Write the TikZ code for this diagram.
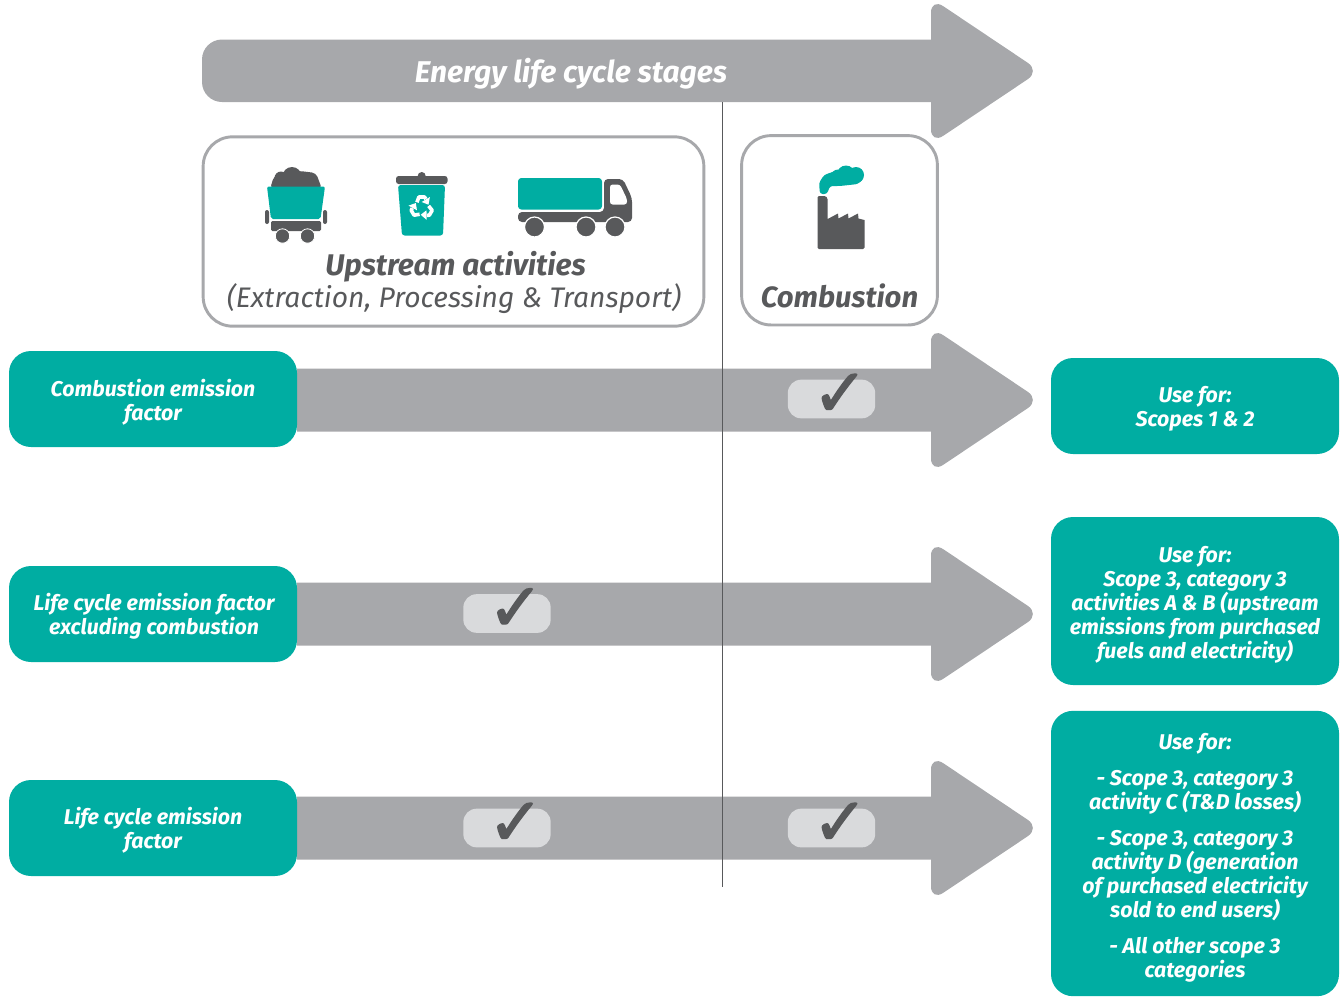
\documentclass[tikz,border=0pt]{standalone}
\usepackage{fontspec}
\setmainfont{Fira Sans}
\newfontfamily\symbfont[FakeBold=2]{DejaVu Sans}
\definecolor{teal1}{HTML}{00ADA2}
\definecolor{grey1}{HTML}{A7A8AB}
\definecolor{dark1}{HTML}{58595B}
\definecolor{pill1}{HTML}{D9DADC}
\tikzset{
  x=0.75pt,y=-0.75pt,
  tealbox/.style={fill=teal1,rounded corners=16.5pt,inner sep=0pt,minimum width=216pt},
  teallabel/.style={text=white,inner sep=0pt,align=center,font=\fontsize{16}{18}\selectfont\bfseries\itshape},
  framebox/.style={draw=grey1,line width=2.2pt,fill=white,rounded corners=22pt,inner sep=0pt},
  pillbox/.style={fill=pill1,rounded corners=10pt,minimum width=65.5pt,minimum height=29pt,inner sep=0pt},
  checkmark/.style={text=dark1,inner sep=0pt,font=\symbfont\fontsize{50}{50}\selectfont},
  darktext/.style={text=dark1,inner sep=0pt},
  bigarrow/.style={fill=grey1,rounded corners=11pt},
}
\newcommand{\stagearrow}[2][297]{%
  \fill[bigarrow] (#1,#2-31.5) [sharp corners] -- (931,#2-31.5) [rounded corners=11pt] -- (931,#2-73) -- (1040,#2) -- (931,#2+73) [sharp corners] -- (931,#2+31.5) -- (#1,#2+31.5) -- cycle;%
}
\begin{document}
\begin{tikzpicture}
\useasboundingbox (0,0) rectangle (1342,996);
% title arrow
\fill[bigarrow] (230,39.5) [sharp corners] -- (931,39.5) [rounded corners=11pt] -- (931,-2) -- (1040,71) -- (931,144) [sharp corners] -- (931,102) -- (230,102) [rounded corners=15pt] -- (202,102) -- (202,39.5) [sharp corners] -- cycle;
\node[text=white,inner sep=0pt,font=\fontsize{22.5}{25}\selectfont\bfseries\itshape] (title) at (571,73.5) {Energy life cycle stages};
% row arrows
\stagearrow{400}
\stagearrow{614}
\stagearrow{828}
% divider
\coordinate (divtop) at (722.5,102);
\coordinate (divbot) at (722.5,887);
\draw[dark1,line width=0.6pt] (divtop) -- (divbot);
% frames
\node[framebox,minimum width=375.5pt,minimum height=142pt] (upframe) at (453.5,231.5) {};
\node[framebox,minimum width=146.8pt,minimum height=142pt] (cbframe) at (839.5,230.3) {};
% coal cart
\fill[dark1,rounded corners=3pt] (270,189) -- (274,176) -- (286,172) -- (300,171) -- (316,173) -- (322,189) -- cycle;
\fill[dark1] (281,178) circle[radius=6.5];
\fill[dark1] (292,176.5) circle[radius=9.5];
\fill[dark1] (307,179.5) circle[radius=7];
\fill[teal1,rounded corners=1.5pt] (267,186.5) -- (325,186.5) -- (320.5,219) -- (271,219) -- cycle;
\fill[dark1,rounded corners=1pt] (271,221) rectangle (321,231);
\fill[dark1,rounded corners=1.5pt] (265,210) rectangle (269,224);
\fill[dark1,rounded corners=1.5pt] (323,210) rectangle (327,224);
\fill[dark1,draw=white,line width=0.6pt] (282.5,236) circle[radius=7.2];
\fill[dark1,draw=white,line width=0.6pt] (307.5,236) circle[radius=7.2];
% recycling bin
\fill[dark1,rounded corners=2pt] (396,176) rectangle (447.5,184);
\fill[dark1] (421.7,176) circle[radius=4];
\fill[teal1,rounded corners=2pt] (398,185) -- (445,185) -- (443,235.5) -- (402,235.5) -- cycle;
\begin{scope}[shift={(421.7,207.5)}]
\foreach \a in {0,120,240}{
  \begin{scope}[rotate=\a]
    \draw[white,line width=2.7pt,line join=round] (-4.8,-5.2) -- (-2.8,-10.5) -- (2.8,-10.5) -- (4.2,-8.5);
    \fill[white] (8.2,-10.5) -- (6.8,-2.8) -- (0,-5.5) -- cycle;
  \end{scope}
}
\end{scope}
% truck
\fill[dark1,rounded corners=3pt] (604,179) -- (623,179) -- (632,198) -- (632,222) -- (518,222) -- (518,212) -- (604,212) -- cycle;
\fill[white,rounded corners=2pt] (610,184.5) -- (620,184.5) -- (627,199) -- (627,204.5) -- (610,204.5) -- cycle;
\fill[teal1,rounded corners=2.5pt] (518,178) rectangle (602,209.5);
\foreach \c in {534.5,586,615}{
  \fill[dark1,draw=white,line width=0.9pt] (\c,227) circle[radius=10];
}
% factory
\fill[dark1,rounded corners=1pt] (817.5,196) [rounded corners=2.5pt] -- (827.5,196) [sharp corners] -- (827.7,219) -- (838,213.5) -- (838.5,218.5) -- (848,213.5) -- (848.5,218.5) -- (858,213.5) -- (858.5,218.5) -- (864.5,220) [rounded corners=1pt] -- (864.5,249) -- (817.5,249) -- cycle;
\fill[teal1,rounded corners=2pt] (819,183) -- (824,175) -- (838,170) -- (858,170) -- (864,178) -- (858,184) -- (840,186) -- (830,186) -- (827,194) -- (820,194) -- cycle;
\fill[teal1] (838,176.5) circle[radius=7];
\fill[teal1] (846,174.5) circle[radius=9];
\fill[teal1] (856,175) circle[radius=8];
% frame texts
\node[darktext,font=\fontsize{22.4}{26}\selectfont\bfseries\itshape] (uplabel) at (455.5,267) {Upstream activities};
\node[darktext,font=\fontsize{21.2}{26}\selectfont\itshape] (upsub) at (454,299) {(Extraction, Processing \& Transport)};
\node[darktext,font=\fontsize{22}{26}\selectfont\bfseries\itshape] (cblabel) at (839.5,296) {Combustion};
% left boxes
\node[tealbox,minimum height=72pt] (f1) at (153,399) {};
\node[teallabel] (f1t) at (153,402) {Combustion emission\\factor};
\node[tealbox,minimum height=72pt] (f2) at (153,614) {};
\node[teallabel] (f2t) at (154,616) {Life cycle emission factor\\excluding combustion};
\node[tealbox,minimum height=72pt] (f3) at (153,828) {};
\node[teallabel] (f3t) at (153,830) {Life cycle emission\\factor};
% right boxes
\node[tealbox,minimum height=72pt] (u1) at (1195,406) {};
\node[teallabel] (u1t) at (1195,408.5) {Use for:\\Scopes 1 \& 2};
\node[tealbox,minimum height=126pt] (u2) at (1195,601) {};
\node[teallabel] (u2t) at (1195,605) {Use for:\\Scope 3, category 3\\activities A \& B (upstream\\emissions from purchased\\fuels and electricity)};
\node[tealbox,minimum height=214pt] (u3) at (1195,853.5) {};
\node[teallabel] (u3t) at (1195,857.5) {Use for:\\[9pt]- Scope 3, category 3\\activity C (T\&D losses)\\[9pt]- Scope 3, category 3\\activity D (generation\\of purchased electricity\\sold to end users)\\[9pt]- All other scope 3\\categories};
% check pills
\node[pillbox] (p1) at (831.5,399) {};
\node[pillbox] (p2) at (507,613.5) {};
\node[pillbox] (p3) at (507,828) {};
\node[pillbox] (p4) at (831.5,828) {};
\foreach \p/\q in {p1/c1,p2/c2,p3/c3,p4/c4}{
  \node[checkmark] (\q) at ([yshift=3pt,xshift=6.5pt]\p) {✓};
}
\end{tikzpicture}
\end{document}
